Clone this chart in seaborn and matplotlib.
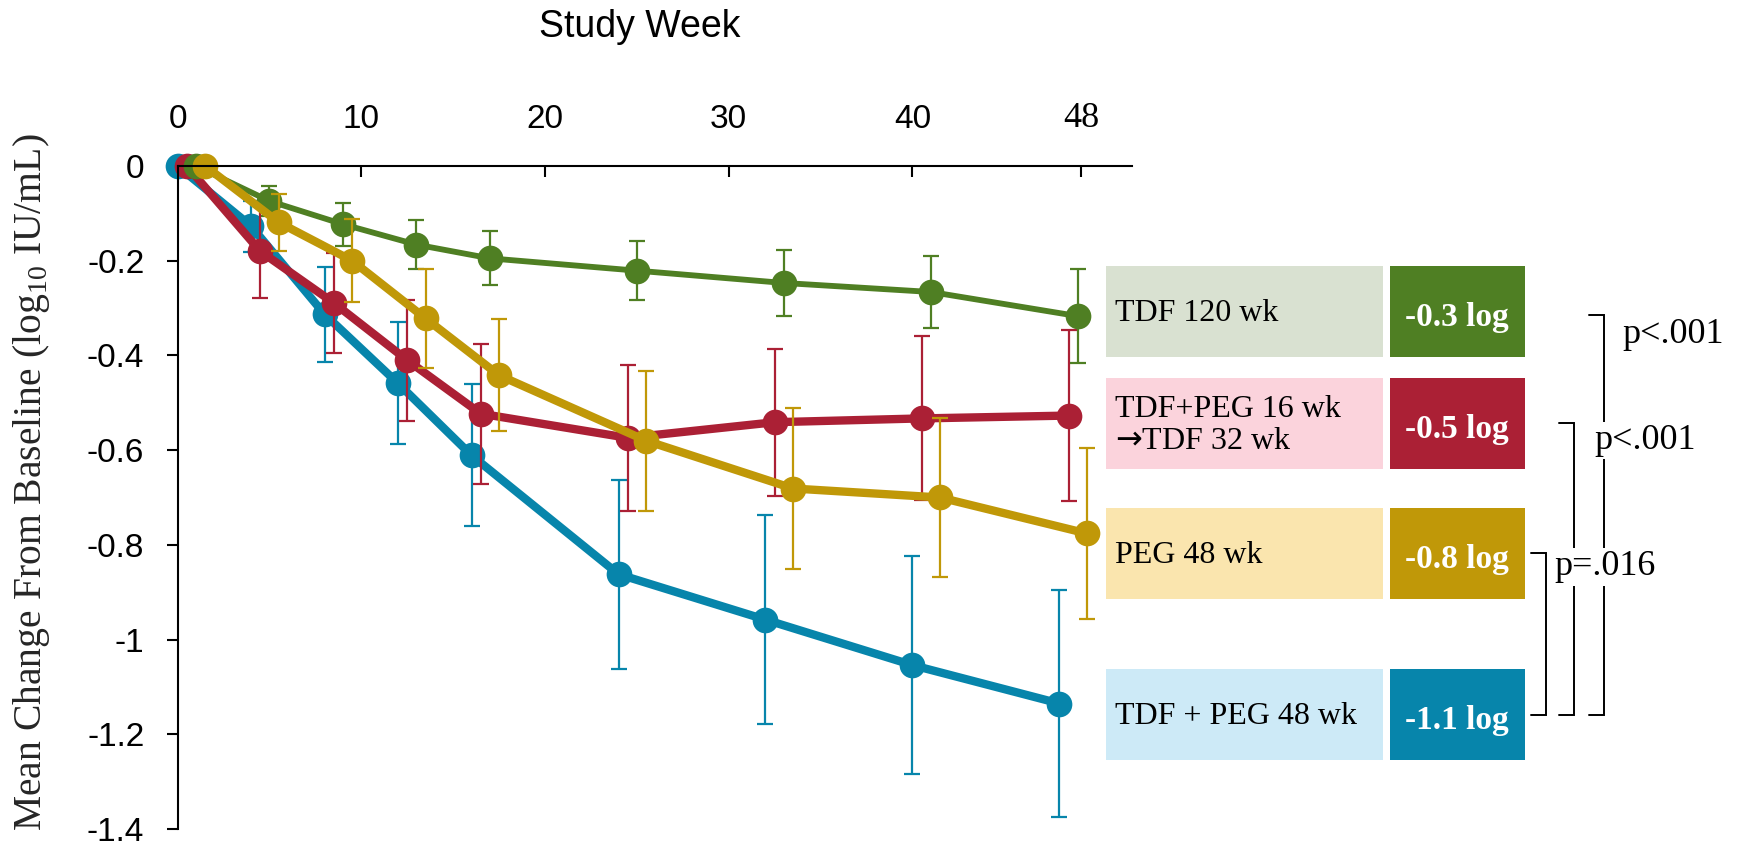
import matplotlib
matplotlib.use("Agg")
import matplotlib.pyplot as plt
from matplotlib.patches import Rectangle
import pandas as pd
import seaborn as sns

# Visit schedule (weeks) and mean change in HBsAg from baseline (log10 IU/mL)
weeks = [0, 4, 8, 12, 16, 24, 32, 40, 48]

mean_tdf_peg48 = [0, -0.127, -0.313, -0.459, -0.611, -0.862, -0.958, -1.054, -1.135]
se_tdf_peg48 = [0, 0.054, 0.100, 0.129, 0.150, 0.200, 0.220, 0.230, 0.240]

mean_tdf_peg16 = [0, -0.180, -0.289, -0.410, -0.523, -0.574, -0.541, -0.533, -0.527]
se_tdf_peg16 = [0, 0.098, 0.105, 0.128, 0.148, 0.154, 0.155, 0.173, 0.180]

mean_tdf120 = [0, -0.074, -0.123, -0.166, -0.195, -0.221, -0.247, -0.266, -0.317]
se_tdf120 = [0, 0.032, 0.045, 0.052, 0.057, 0.063, 0.070, 0.076, 0.100]

mean_peg48 = [0, -0.119, -0.200, -0.322, -0.442, -0.580, -0.681, -0.700, -0.776]
se_peg48 = [0, 0.060, 0.088, 0.105, 0.118, 0.148, 0.170, 0.167, 0.180]

# Arm labels and week-48 summaries, listed top to bottom as in the key
arm_labels = ["TDF 120 wk", "TDF+PEG 16 wk\n$\u2192$TDF 32 wk", "PEG 48 wk", "TDF + PEG 48 wk"]
arm_summary = ["-0.3 log", "-0.5 log", "-0.8 log", "-1.1 log"]

# Pairwise comparisons against TDF + PEG 48 wk (row index in the key, p-value text)
comparisons = [(0, "p<.001"), (1, "p<.001"), (2, "p=.016")]

xtick_pos = [0, 10, 20, 30, 40, 49.2]
xtick_labels = ["0", "10", "20", "30", "40", "48"]
ytick_pos = [0, -0.2, -0.4, -0.6, -0.8, -1.0, -1.2, -1.4]
ytick_labels = ["0", "-0.2", "-0.4", "-0.6", "-0.8", "-1", "-1.2", "-1.4"]

# Styling
dark = {"blue": "#0785ab", "red": "#ab2035", "green": "#4f7f23", "gold": "#c09808"}
light = {"blue": "#cdeaf7", "red": "#fbd3dc", "green": "#d9e1d1", "gold": "#fae5ae"}

sns.set_theme(style="white")
plt.rcParams["font.family"] = ["Liberation Sans", "DejaVu Sans"]
SERIF = ["Liberation Serif", "DejaVu Serif"]

W, H = 1742, 843
fig = plt.figure(figsize=(W / 100, H / 100), dpi=100)

# Plot area in pixel terms
left_px, right_px, top_px, bottom_px = 177.6, 1132.0, 166.0, 829.0
ax = fig.add_axes([left_px / W, 1 - bottom_px / H,
                   (right_px - left_px) / W, (bottom_px - top_px) / H])

# Draw order (later on top) with a small horizontal dodge per arm
series = [
    ("TDF + PEG 48 wk", mean_tdf_peg48, se_tdf_peg48, "blue", 0.0, 6.0),
    ("TDF+PEG 16 wk \u2192 TDF 32 wk", mean_tdf_peg16, se_tdf_peg16, "red", 0.5, 6.0),
    ("TDF 120 wk", mean_tdf120, se_tdf120, "green", 1.0, 4.2),
    ("PEG 48 wk", mean_peg48, se_peg48, "gold", 1.5, 6.0),
]

for name, mean, se, key, dodge, lw in series:
    df = pd.DataFrame({"week": [w + dodge for w in weeks], "change": mean, "se": se})
    err = df[df["se"] > 0]
    ax.errorbar(err["week"], err["change"], yerr=err["se"], fmt="none",
                ecolor=dark[key], elinewidth=1.6, capsize=5.8, capthick=1.6,
                clip_on=False)
    sns.lineplot(data=df, x="week", y="change", ax=ax, color=dark[key],
                 linewidth=lw, marker="o", markersize=18.5, markeredgewidth=0,
                 errorbar=None, clip_on=False, legend=False)

ax.set_xlim(0, 51.95)
ax.set_ylim(-1.4, 0)
ax.set_xlabel("")
ax.set_ylabel("Mean Change From Baseline (log$_{\\mathregular{10}}$ IU/mL)",
              family=SERIF, fontsize=28.5)
ax.yaxis.set_label_coords((31 - left_px) / (right_px - left_px), 0.523)
ax.yaxis.label.set_va("center")

ax.set_xticks(xtick_pos)
ax.set_xticklabels(xtick_labels)
ax.set_yticks(ytick_pos)
ax.set_yticklabels(ytick_labels)
ax.xaxis.tick_top()
ax.tick_params(axis="x", top=True, bottom=False, labeltop=True, labelbottom=False,
               direction="in", length=8, width=1.5, pad=22, labelsize=24,
               colors="black")
ax.tick_params(axis="y", left=True, direction="out", length=8, width=1.5,
               pad=16, labelsize=24, colors="black")
last = ax.get_xticklabels()[-1]
last.set_fontfamily(SERIF)
last.set_fontsize(26)

for side in ("bottom", "right"):
    ax.spines[side].set_visible(False)
for side in ("top", "left"):
    ax.spines[side].set_color("black")
    ax.spines[side].set_linewidth(1.5)
ax.grid(False)

fig.text(639.5 / W, 1 - 36.7 / H, "Study Week", ha="center", va="baseline",
         fontsize=27, color="black")

# Key boxes, summaries and comparison brackets drawn in pixel coordinates
ov = fig.add_axes([0, 0, 1, 1], facecolor="none")
ov.set_xlim(0, W)
ov.set_ylim(H, 0)
ov.axis("off")

row_top = [265.5, 377.7, 507.7, 668.8]
row_h = 91.5
row_keys = ["green", "red", "gold", "blue"]
centers = [t + row_h / 2 for t in row_top]

for top, key, label, summ, cy in zip(row_top, row_keys, arm_labels, arm_summary, centers):
    ov.add_patch(Rectangle((1105.5, top), 277.5, row_h, facecolor=light[key],
                           edgecolor="none"))
    ov.add_patch(Rectangle((1390.0, top), 134.5, row_h, facecolor=dark[key],
                           edgecolor="none"))
    ov.text(1115, cy + 2, label, ha="left", va="center", family=SERIF,
            fontsize=23, color="black", linespacing=1.1)
    ov.text(1457, cy + 14.5, summ, ha="center", va="baseline", family=SERIF,
            fontsize=24, fontweight="bold", color="white")

bracket_x = [1604.0, 1574.0, 1545.5]
label_x = [1622.0, 1594.0, 1554.0]
label_dy = [19.0, 17.0, 13.5]
for (row, ptxt), bx, lx, dy in zip(comparisons, bracket_x, label_x, label_dy):
    y0, y1 = centers[row] + (4 if row == 0 else 0), centers[3]
    ov.plot([bx - 15, bx, bx, bx - 15], [y0, y0, y1, y1], color="black",
            linewidth=1.4, solid_joinstyle="miter")
    ov.text(lx, y0 + dy, ptxt, ha="left", va="center", family=SERIF,
            fontsize=26, color="black", zorder=5,
            bbox=dict(facecolor="white", edgecolor="none", pad=1.5))

fig.savefig("out.png", dpi=100)
